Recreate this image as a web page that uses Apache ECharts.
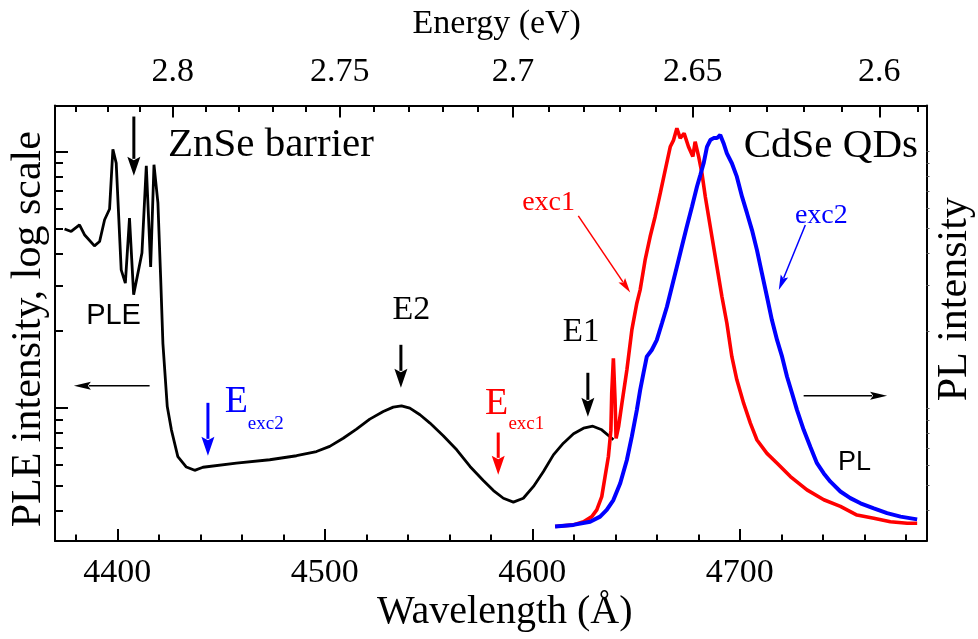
<!DOCTYPE html>
<html>
<head>
<meta charset="utf-8">
<script src="https://cdn.jsdelivr.net/npm/echarts@6/dist/echarts.min.js"></script>
<style>
  html, body { margin: 0; padding: 0; background: #fff; }
  #chart { width: 978px; height: 639px; }
</style>
</head>
<body>
<div id="chart"></div>
<script>
// PLE spectrum: wavelength (Å) and intensity (arb. units, shown on a log scale)
const pleWavelength = [4374.6, 4377.8, 4381.8, 4384.2, 4389.0, 4391.5, 4393.9, 4396.3, 4397.9, 4399.5,
  4401.9, 4403.9, 4405.9, 4407.9, 4411.9, 4414.0, 4416.1, 4417.7, 4419.6, 4420.9,
  4422.0, 4424.1, 4426.1, 4429.2, 4433.3, 4437.3, 4441.3, 4457.4, 4473.5, 4486.4,
  4496.0, 4502.4, 4508.9, 4515.3, 4521.7, 4528.2, 4533.0, 4537.0, 4541.0, 4545.9,
  4550.7, 4557.1, 4563.6, 4570.0, 4576.4, 4581.3, 4586.1, 4590.9, 4595.7, 4600.6,
  4605.4, 4610.2, 4615.0, 4619.9, 4624.7, 4629.2, 4633.5, 4638.3, 4639.1];
const pleIntensity = [49.9, 48.8, 51.8, 47.4, 42.9, 44.6, 54.2, 59.7, 102, 90.1,
  34.6, 30.7, 55.0, 27.7, 40.2, 88.0, 35.5, 88.8, 63.0, 32.6,
  17.9, 10.15, 8.24, 6.48, 5.90, 5.73, 5.89, 6.11, 6.30, 6.53,
  6.78, 7.10, 7.64, 8.29, 9.07, 9.71, 10.10, 10.22, 10.01, 9.43,
  8.75, 7.81, 6.89, 5.93, 5.23, 4.78, 4.46, 4.31, 4.46, 4.96,
  5.67, 6.58, 7.31, 7.95, 8.36, 8.51, 8.24, 7.64, 7.53];

// PL spectrum under excitation exc1 (normalised intensity)
const exc1Wavelength = [4611.0, 4619.8, 4624.7, 4628.7, 4631.1, 4633.5, 4635.1, 4636.7, 4637.9, 4638.3,
  4639.1, 4639.9, 4640.4, 4641.6, 4643.2, 4645.6, 4648.0, 4650.4, 4652.0, 4654.4,
  4656.8, 4659.2, 4661.7, 4664.1, 4666.5, 4668.1, 4669.7, 4671.3, 4673.2, 4675.3,
  4677.4, 4678.5, 4680.2, 4681.8, 4683.4, 4685.0, 4686.6, 4689.0, 4691.4, 4693.8,
  4696.2, 4698.6, 4701.9, 4705.1, 4708.3, 4713.1, 4718.0, 4724.4, 4732.4, 4740.5,
  4748.5, 4756.5, 4764.6, 4772.6, 4780.7, 4785.5];
const exc1Intensity = [0.004, 0.008, 0.016, 0.029, 0.046, 0.080, 0.131, 0.182, 0.249, 0.343,
  0.432, 0.326, 0.228, 0.258, 0.317, 0.402, 0.504, 0.572, 0.606, 0.682,
  0.741, 0.792, 0.852, 0.911, 0.970, 0.987, 1.017, 0.992, 1.004, 0.970,
  0.945, 0.983, 0.945, 0.902, 0.843, 0.792, 0.741, 0.665, 0.589, 0.521,
  0.436, 0.377, 0.317, 0.267, 0.224, 0.190, 0.165, 0.131, 0.097, 0.072,
  0.055, 0.033, 0.025, 0.016, 0.012, 0.012];

// PL spectrum under excitation exc2 (normalised intensity)
const exc2Wavelength = [4611.0, 4619.8, 4627.9, 4632.7, 4635.9, 4639.1, 4642.4, 4645.6, 4648.0, 4650.4,
  4652.0, 4653.6, 4655.2, 4657.6, 4660.0, 4662.5, 4664.9, 4667.3, 4669.7, 4672.1,
  4674.5, 4677.0, 4679.4, 4681.0, 4682.6, 4684.2, 4685.8, 4687.4, 4689.0, 4690.6,
  4692.2, 4693.8, 4696.2, 4698.6, 4701.1, 4703.5, 4705.9, 4708.3, 4710.7, 4713.1,
  4715.5, 4718.0, 4720.4, 4722.8, 4725.2, 4727.6, 4730.8, 4734.0, 4737.2, 4740.5,
  4743.7, 4748.5, 4753.3, 4758.2, 4764.6, 4771.0, 4777.5, 4785.5];
const exc2Intensity = [0.004, 0.008, 0.016, 0.029, 0.046, 0.071, 0.114, 0.173, 0.233, 0.300,
  0.351, 0.394, 0.436, 0.453, 0.478, 0.521, 0.563, 0.614, 0.665, 0.716,
  0.767, 0.818, 0.869, 0.898, 0.928, 0.970, 0.987, 0.992, 0.992, 1.000,
  0.979, 0.953, 0.928, 0.894, 0.843, 0.801, 0.758, 0.707, 0.648, 0.589,
  0.529, 0.478, 0.436, 0.385, 0.343, 0.300, 0.250, 0.207, 0.165, 0.139,
  0.118, 0.093, 0.076, 0.063, 0.050, 0.038, 0.029, 0.022];

// Axis ranges and ticks
const wavelengthRange = [4370, 4790];
const wavelengthTicks = [4400, 4500, 4600, 4700];
const wavelengthMinorStep = 20;
const energyTicks = [2.8, 2.75, 2.7, 2.65, 2.6];
const energyTickLabels = ['2.8', '2.75', '2.7', '2.65', '2.6'];
const energyMinorStep = 0.01;
const pleRange = [3.04, 151];          // intensity range of the log axis
const pleDecades = [10, 100];          // major log ticks
const plRange = [-0.033, 1.075];

// Energy (eV) -> wavelength in air (Å)
const HC = 12398.42, N_AIR = 1.00028;
const toWavelength = e => HC / (e * N_AIR);

const SERIF = '"Liberation Serif", "Times New Roman", serif';
const SANS = '"Liberation Sans", Arial, sans-serif';
const RED = '#ff0000', BLUE = '#0000ff', BLACK = '#000000';

// Derived tick positions
const wlMinor = [];
for (let w = Math.ceil(wavelengthRange[0] / wavelengthMinorStep) * wavelengthMinorStep; w <= wavelengthRange[1]; w += wavelengthMinorStep) {
  if (wavelengthTicks.indexOf(w) < 0) wlMinor.push(w);
}
const energyTickWl = energyTicks.map(toWavelength);
const energyMinorWl = [];
for (let k = Math.ceil(HC / N_AIR / wavelengthRange[1] / energyMinorStep); k * energyMinorStep <= HC / N_AIR / wavelengthRange[0]; k++) {
  const e = Math.round(k * energyMinorStep * 100) / 100;
  if (energyTicks.indexOf(e) < 0) energyMinorWl.push(toWavelength(e));
}
const logMin = Math.log10(pleRange[0]), logMax = Math.log10(pleRange[1]);
const logMajor = pleDecades.map(Math.log10);
const logMinor = [];
[1, 10].forEach(base => {
  for (let m = 2; m <= 9; m++) {
    const v = Math.log10(base * m);
    if (v >= logMin && v <= logMax) logMinor.push(v);
  }
});

const axisLine = { show: true, onZero: false, lineStyle: { color: BLACK, width: 2 } };
const hiddenLine = { show: false, onZero: false };

const chart = echarts.init(document.getElementById('chart'), null, { renderer: 'canvas' });

chart.setOption({
  animation: false,
  backgroundColor: '#fff',
  grid: { left: 55, right: 51.5, top: 105.5, bottom: 98, containLabel: false },
  xAxis: [
    { // wavelength, major ticks + labels
      type: 'value', position: 'bottom', min: wavelengthRange[0], max: wavelengthRange[1],
      axisLine: axisLine,
      axisTick: { show: true, inside: true, length: 12, customValues: wavelengthTicks, lineStyle: { color: BLACK, width: 2 } },
      axisLabel: { show: true, customValues: wavelengthTicks, margin: 15, fontFamily: SERIF, fontSize: 34, color: BLACK,
        formatter: v => String(Math.round(v)) },
      splitLine: { show: false }
    },
    { // wavelength, minor ticks
      type: 'value', position: 'bottom', min: wavelengthRange[0], max: wavelengthRange[1],
      axisLine: hiddenLine,
      axisTick: { show: true, inside: true, length: 6.5, customValues: wlMinor, lineStyle: { color: BLACK, width: 2 } },
      axisLabel: { show: false }, splitLine: { show: false }
    },
    { // energy, major ticks + labels
      type: 'value', position: 'top', min: wavelengthRange[0], max: wavelengthRange[1],
      axisLine: axisLine,
      axisTick: { show: true, inside: true, length: 12, customValues: energyTickWl, lineStyle: { color: BLACK, width: 2 } },
      axisLabel: {
        show: true, customValues: energyTickWl, margin: 16, fontFamily: SERIF, fontSize: 34, color: BLACK,
        formatter: v => {
          let best = 0;
          energyTickWl.forEach((w, i) => { if (Math.abs(w - v) < Math.abs(energyTickWl[best] - v)) best = i; });
          return energyTickLabels[best];
        }
      },
      splitLine: { show: false }
    },
    { // energy, minor ticks
      type: 'value', position: 'top', min: wavelengthRange[0], max: wavelengthRange[1],
      axisLine: hiddenLine,
      axisTick: { show: true, inside: true, length: 6.5, customValues: energyMinorWl, lineStyle: { color: BLACK, width: 2 } },
      axisLabel: { show: false }, splitLine: { show: false }
    }
  ],
  yAxis: [
    { // PLE log intensity, decades
      type: 'value', position: 'left', min: logMin, max: logMax,
      axisLine: axisLine,
      axisTick: { show: true, inside: true, length: 13, customValues: logMajor, lineStyle: { color: BLACK, width: 2 } },
      axisLabel: { show: false }, splitLine: { show: false }
    },
    { // PLE log intensity, minor ticks
      type: 'value', position: 'left', min: logMin, max: logMax,
      axisLine: hiddenLine,
      axisTick: { show: true, inside: true, length: 8, customValues: logMinor, lineStyle: { color: BLACK, width: 2 } },
      axisLabel: { show: false }, splitLine: { show: false }
    },
    { // PL intensity (linear)
      type: 'value', position: 'right', min: plRange[0], max: plRange[1],
      axisLine: axisLine,
      axisTick: { show: false }, axisLabel: { show: false }, splitLine: { show: false }
    },
    { // small outer ticks on the right frame
      type: 'value', position: 'right', min: logMin, max: logMax,
      axisLine: hiddenLine,
      axisTick: { show: true, inside: false, length: 3, customValues: logMajor.concat(logMinor), lineStyle: { color: '#555', width: 1 } },
      axisLabel: { show: false }, splitLine: { show: false }
    }
  ],
  series: [
    {
      name: 'PLE', type: 'line', xAxisIndex: 0, yAxisIndex: 0,
      data: pleWavelength.map((w, i) => [w, Math.log10(pleIntensity[i])]),
      showSymbol: false, symbol: 'none', lineStyle: { color: BLACK, width: 2.8 }, z: 2
    },
    {
      name: 'PL exc1', type: 'line', xAxisIndex: 0, yAxisIndex: 2,
      data: exc1Wavelength.map((w, i) => [w, exc1Intensity[i]]),
      showSymbol: false, symbol: 'none', lineStyle: { color: RED, width: 3.6 }, z: 3
    },
    {
      name: 'PL exc2', type: 'line', xAxisIndex: 0, yAxisIndex: 2,
      data: exc2Wavelength.map((w, i) => [w, exc2Intensity[i]]),
      showSymbol: false, symbol: 'none', lineStyle: { color: BLUE, width: 4 }, z: 4
    }
  ]
});

// ---- Annotations (positions in data coordinates) ----
// Vertical markers on the PLE curve: wavelength, log-intensity of tail and tip
const pleMarkers = [
  { w: 4408.0, from: 2.136, to: 1.905, color: BLACK },   // ZnSe barrier
  { w: 4536.7, from: 1.247, to: 1.0795, color: BLACK },  // E2
  { w: 4626.8, from: 1.138, to: 0.9665, color: BLACK },  // E1
  { w: 4443.7, from: 1.021, to: 0.8146, color: BLUE },   // E_exc2
  { w: 4583.6, from: 0.9053, to: 0.7405, color: RED }    // E_exc1
];
const pleLabels = [
  { text: 'ZnSe barrier', w: 4424.4, v: 2.024, size: 41, font: SERIF, color: BLACK, align: 'left' },
  { text: 'PLE', w: 4385.0, v: 1.3588, size: 29, font: SANS, color: BLACK, align: 'left' },
  { text: 'E2', w: 4532.7, v: 1.3814, size: 34, font: SERIF, color: BLACK, align: 'left' },
  { text: 'E1', w: 4614.7, v: 1.296, size: 33, font: SERIF, color: BLACK, align: 'left' },
  { text: 'E', w: 4451.8, v: 1.023, size: 38, font: SERIF, color: BLUE, align: 'left' },
  { text: 'exc2', w: 4462.9, v: 0.9404, size: 19, font: SERIF, color: BLUE, align: 'left' },
  { text: 'E', w: 4577.2, v: 1.0152, size: 38, font: SERIF, color: RED, align: 'left' },
  { text: 'exc1', w: 4588.5, v: 0.9404, size: 19, font: SERIF, color: RED, align: 'left' }
];
const pleAxisArrow = { from: [4415.6, 1.0873], to: [4379.1, 1.0873] };
const plAxisArrow = { from: [4730.8, 0.3366], to: [4771.0, 0.3366] };
const plPointers = [
  { from: [4622.2, 0.794], to: [4647.2, 0.599], color: RED },
  { from: [4731.6, 0.771], to: [4718.8, 0.6056], color: BLUE }
];
const plLabels = [
  { text: 'CdSe QDs', w: 4701.9, v: 0.9707, size: 41, font: SERIF, color: BLACK, align: 'left' },
  { text: 'exc1', w: 4620.6, v: 0.828, size: 28, font: SERIF, color: RED, align: 'right' },
  { text: 'exc2', w: 4726.6, v: 0.794, size: 28, font: SERIF, color: BLUE, align: 'left' },
  { text: 'PL', w: 4747.4, v: 0.1654, size: 27, font: SANS, color: BLACK, align: 'left' }
];

const toPx = (w, v, yIdx) => chart.convertToPixel({ xAxisIndex: 0, yAxisIndex: yIdx }, [w, v]);

function arrow(p0, p1, color, width, headLen, headWidth) {
  const dx = p1[0] - p0[0], dy = p1[1] - p0[1];
  const len = Math.hypot(dx, dy);
  const ux = dx / len, uy = dy / len, nx = -uy, ny = ux;
  const bx = p1[0] - ux * headLen, by = p1[1] - uy * headLen;
  return [
    { type: 'line', silent: true, z: 10,
      shape: { x1: p0[0], y1: p0[1], x2: bx + ux * 2, y2: by + uy * 2 },
      style: { stroke: color, lineWidth: width } },
    { type: 'polygon', silent: true, z: 10,
      shape: { points: [[p1[0], p1[1]], [bx + nx * headWidth / 2, by + ny * headWidth / 2],
        [bx + ux * headLen * 0.18, by + uy * headLen * 0.18], [bx - nx * headWidth / 2, by - ny * headWidth / 2]] },
      style: { fill: color } }
  ];
}

function label(t, p, rotation) {
  return {
    type: 'text', silent: true, z: 10, x: p[0], y: p[1], rotation: rotation || 0,
    style: {
      text: t.text, fill: t.color, font: t.size + 'px ' + t.font,
      fontSize: t.size, fontFamily: t.font,
      align: t.align || 'center', textAlign: t.align || 'center',
      verticalAlign: 'middle', textVerticalAlign: 'middle'
    }
  };
}

function drawAnnotations() {
  const els = [];
  pleMarkers.forEach(m => {
    els.push(...arrow(toPx(m.w, m.from, 0), toPx(m.w, m.to, 0), m.color, 3, 19, 13));
  });
  els.push(...arrow(toPx(...pleAxisArrow.from, 0), toPx(...pleAxisArrow.to, 0), BLACK, 1.5, 17, 8));
  els.push(...arrow(toPx(...plAxisArrow.from, 2), toPx(...plAxisArrow.to, 2), BLACK, 1.5, 17, 8));
  plPointers.forEach(a => {
    els.push(...arrow(toPx(...a.from, 2), toPx(...a.to, 2), a.color, 1.5, 15, 8));
  });
  pleLabels.forEach(t => els.push(label(t, toPx(t.w, t.v, 0))));
  plLabels.forEach(t => els.push(label(t, toPx(t.w, t.v, 2))));

  // Axis titles, placed relative to the plot frame
  const left = toPx(wavelengthRange[0], logMin, 0), right = toPx(wavelengthRange[1], logMax, 0);
  const x0 = left[0], yB = left[1], x1 = right[0], yT = right[1];
  els.push(label({ text: 'Energy (eV)', size: 34, font: SERIF, color: BLACK }, [(x0 + x1) / 2 + 6, yT - 81]));
  els.push(label({ text: 'Wavelength (\u00C5)', size: 40, font: SERIF, color: BLACK }, [(x0 + x1) / 2 + 14, yB + 71]));
  els.push(label({ text: 'PLE intensity, log scale', size: 42, font: SERIF, color: BLACK }, [x0 - 26, (yT + yB) / 2 + 6], Math.PI / 2));
  els.push(label({ text: 'PL intensity', size: 42, font: SERIF, color: BLACK }, [x1 + 28.5, (yT + yB) / 2 - 24], Math.PI / 2));

  chart.setOption({ graphic: { elements: els } });
}
drawAnnotations();
</script>
</body>
</html>
